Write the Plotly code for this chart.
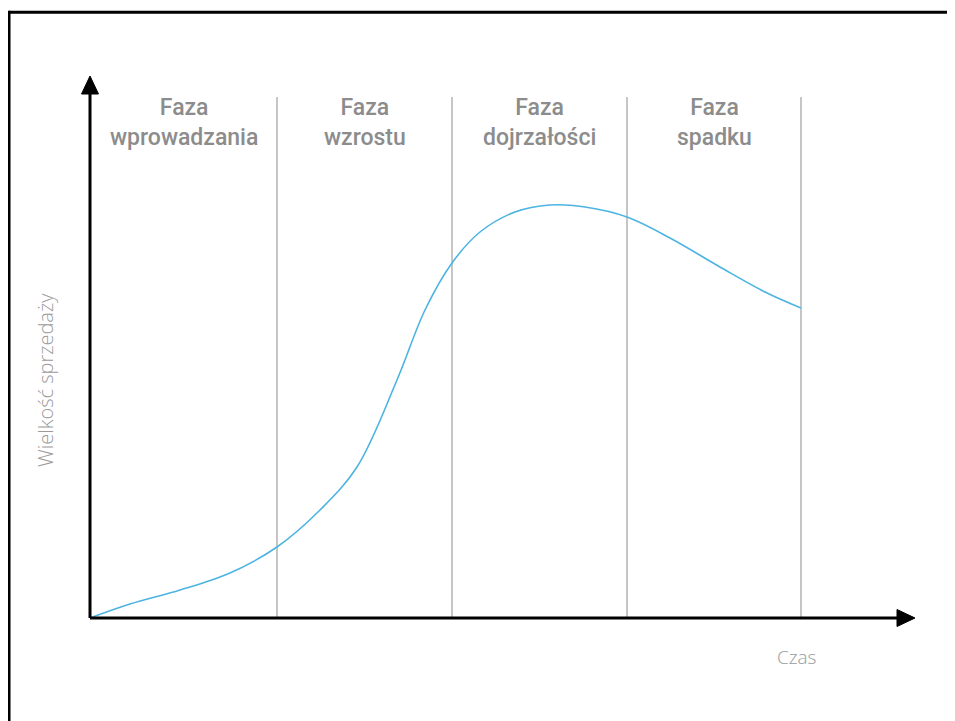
import plotly.graph_objects as go

# Product life cycle curve (time units, sales units)
time = [0, 40, 90, 140, 187, 230, 267, 307, 335, 362, 390, 425, 460, 495, 537, 580, 630, 675, 711]
sales = [0, 14, 28, 45, 71, 108, 151, 238, 308, 355, 386, 406, 413, 411, 401, 380, 351, 326, 310]

phase_bounds = [187, 362, 537, 711]
phase_starts = [0, 187, 362, 537]
phase_labels = ["Faza<br>wprowadzania", "Faza<br>wzrostu", "Faza<br>dojrzałości", "Faza<br>spadku"]

x_axis_end = 825
y_axis_end = 542
divider_top = 521

fig = go.Figure()

fig.add_trace(go.Scatter(
    x=time, y=sales, mode="lines",
    line=dict(color="#4db4e2", width=1.6, shape="spline", smoothing=1.0),
    hoverinfo="skip", showlegend=False,
))

shapes = []
# phase dividers
for b in phase_bounds:
    shapes.append(dict(type="line", xref="x", yref="y", x0=b, x1=b, y0=0, y1=divider_top,
                       line=dict(color="#c6c6c6", width=2), layer="below"))
# axes
shapes.append(dict(type="line", xref="x", yref="y", x0=0, x1=x_axis_end - 12, y0=0, y1=0,
                   line=dict(color="black", width=3)))
shapes.append(dict(type="line", xref="x", yref="y", x0=0, x1=0, y0=0, y1=y_axis_end - 12,
                   line=dict(color="black", width=3)))
# arrow heads
shapes.append(dict(type="path", xref="x", yref="y",
                   path=f"M {x_axis_end} 0 L {x_axis_end-18} 8.5 L {x_axis_end-18} -8.5 Z",
                   fillcolor="black", line=dict(color="black", width=1)))
shapes.append(dict(type="path", xref="x", yref="y",
                   path=f"M 0 {y_axis_end} L -8.5 {y_axis_end-18} L 8.5 {y_axis_end-18} Z",
                   fillcolor="black", line=dict(color="black", width=1)))
# outer frame (top and left)
shapes.append(dict(type="line", xref="paper", yref="paper", x0=-0.084, x1=1.2, y0=1.088, y1=1.088,
                   line=dict(color="black", width=3)))
shapes.append(dict(type="line", xref="paper", yref="paper", x0=-0.084, x1=-0.084, y0=1.0905, y1=-0.3,
                   line=dict(color="black", width=3)))

annotations = []
for s, e, lab in zip(phase_starts, phase_bounds, phase_labels):
    annotations.append(dict(x=(s + e) / 2, y=526, xref="x", yref="y", text=lab, showarrow=False,
                            yanchor="top", xanchor="center",
                            font=dict(family="Roboto", size=23, color="#8c8c8c", weight=500)))
annotations.append(dict(x=-0.0414, y=0.438, xref="paper", yref="paper", text="Wielkość sprzedaży",
                        showarrow=False, textangle=-90, xanchor="center", yanchor="middle",
                        font=dict(family="Open Sans", size=20, color="#9a9a9a", weight=300)))
annotations.append(dict(x=0.8485, y=-0.0512, xref="paper", yref="paper", text="Czas",
                        showarrow=False, xanchor="center", yanchor="middle",
                        font=dict(family="Open Sans", size=19, color="#9a9a9a", weight=300)))

fig.update_layout(
    width=947, height=713,
    margin=dict(l=72, r=30, t=54, b=93),
    paper_bgcolor="white", plot_bgcolor="white",
    xaxis=dict(range=[-10, 835], visible=False, fixedrange=True),
    yaxis=dict(range=[-10, 556], visible=False, fixedrange=True),
    shapes=shapes, annotations=annotations, showlegend=False,
)

fig.write_html("out.html")
